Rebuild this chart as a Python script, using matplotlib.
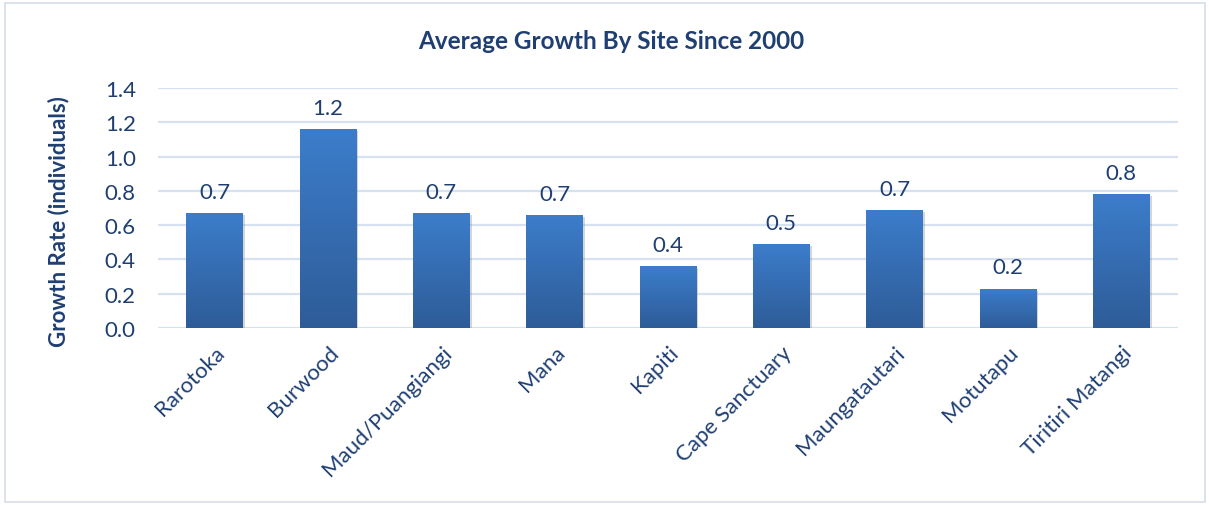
import matplotlib
matplotlib.use("Agg")
import matplotlib.pyplot as plt
import numpy as np
from matplotlib.colors import LinearSegmentedColormap
from matplotlib.patches import Rectangle
import matplotlib.patheffects as pe

sites = ["Rarotoka", "Burwood", "Maud/Puangiangi", "Mana", "Kapiti",
         "Cape Sanctuary", "Maungatautari", "Motutapu", "Tiritiri Matangi"]
growth = [0.67, 1.16, 0.67, 0.66, 0.36, 0.49, 0.69, 0.23, 0.78]
yticks = [0.0, 0.2, 0.4, 0.6, 0.8, 1.0, 1.2, 1.4]

TXT = "#1F3F73"
plt.rcParams['font.family'] = ['Lato', 'DejaVu Sans']

fig = plt.figure(figsize=(12.09, 5.06), dpi=100)
ax = fig.add_axes([0.1307, 0.3498, 0.8437, 0.4743])

x = np.arange(len(sites))
bars = ax.bar(x, growth, width=0.5, color="#3570B8", zorder=3,
              path_effects=[pe.SimplePatchShadow(offset=(1.5, -1.5), shadow_rgbFace="#777777", alpha=0.3), pe.Normal()])

cmap = LinearSegmentedColormap.from_list("g", ["#2E5C98", "#3C7DCB"])
grad = np.linspace(0, 1, 256).reshape(-1, 1)
for b in bars:
    x0, y0 = b.get_x(), b.get_y()
    w, h = b.get_width(), b.get_height()
    im = ax.imshow(grad, cmap=cmap, origin="lower", aspect="auto",
                   extent=[x0, x0 + w, y0, y0 + h], zorder=4)
    im.set_clip_path(b)

for xi, v in zip(x, growth):
    ax.text(xi, v + 0.065, f"{v:.1f}", ha="center", va="bottom",
            fontsize=16, color=TXT, zorder=5)

ax.set_xlim(-0.5, len(sites) - 0.5)
ax.set_ylim(0, 1.4)
ax.set_yticks(yticks)
ax.set_yticklabels([f"{t:.1f}" for t in yticks])
ax.set_xticks(x)
ax.set_xticklabels(sites, rotation=45, ha="right", rotation_mode="anchor")
ax.tick_params(axis="both", length=0, labelsize=16, labelcolor=TXT)
ax.tick_params(axis="y", pad=16)
ax.tick_params(axis="x", pad=10)
ax.grid(axis="y", color="#D6E1F1", linewidth=1.6, zorder=0)
ax.set_axisbelow(True)
for s in ax.spines.values():
    s.set_visible(False)

ax.set_ylabel("Growth Rate (individuals)", fontsize=16, fontweight="bold",
              color=TXT)
ax.yaxis.set_label_coords(-0.087, 0.446)
fig.text(0.5055, 0.917, "Average Growth By Site Since 2000", ha="center", va="center",
         fontsize=17.5, fontweight="bold", color=TXT)

fig.add_artist(Rectangle((0.004, 0.006), 0.993, 0.986, transform=fig.transFigure,
                         fill=False, edgecolor="#D5DEEA", linewidth=1.2))

fig.savefig("out.png", dpi=100)
